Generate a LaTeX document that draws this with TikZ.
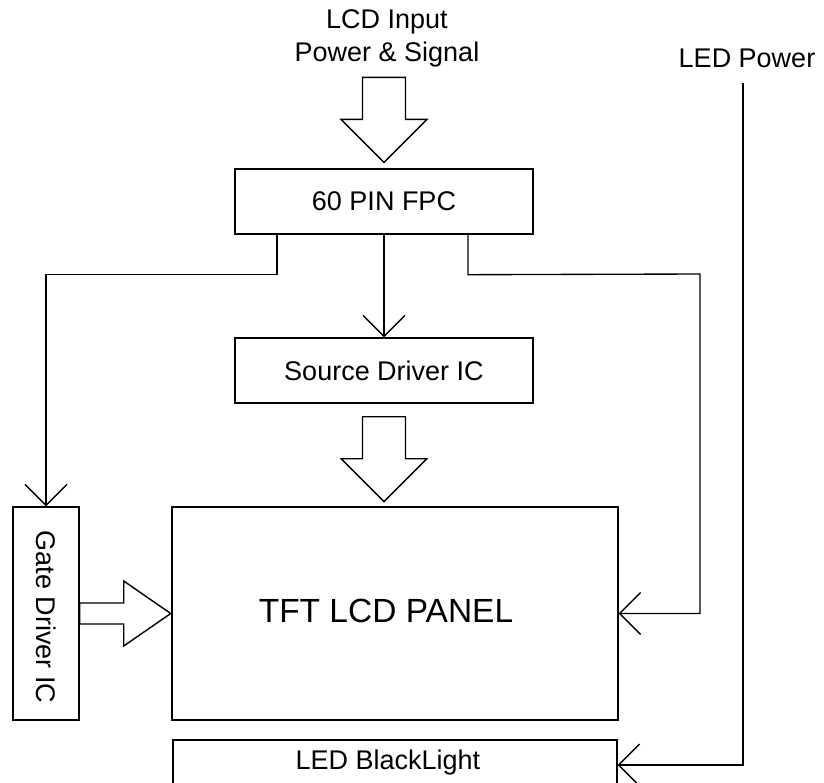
\documentclass[tikz,border=0pt]{standalone}
\usepackage{fontspec}
\setmainfont{Liberation Sans}
\usepackage{tikz}
\usetikzlibrary{arrows.meta,positioning}
\newcommand{\bigfont}{\fontsize{27}{33}\selectfont}
\newcommand{\panelfont}{\fontsize{33.5}{40}\selectfont}
\tikzstyle{block} = [rectangle, draw, line width=1.4pt, inner sep=0pt, text centered, font=\bigfont]
\tikzstyle{wire} = [line width=1.35pt, -{Straight Barb[length=21pt,width=42pt]}]
\tikzstyle{fat} = [line width=1.4pt, fill=white, line join=miter]

\begin{document}
\begin{tikzpicture}[x=1pt,y=-1pt]
\useasboundingbox (0,0) rectangle (824,782);

% Boxes
\node[block, minimum width=298pt, minimum height=65pt] (fpc) at (384,201.5) {60 PIN FPC};
\node[block, minimum width=298pt, minimum height=65pt] (src) at (384,370.5) {Source Driver IC};
\node[block, minimum width=446pt, minimum height=213pt] (tft) at (395,613.5) {};
\node[font=\panelfont] (tfttxt) at (386,611) {TFT LCD PANEL};
\node[block, minimum width=66pt, minimum height=213pt] (gate) at (46,613.5) {};
\node[rotate=-90, font=\bigfont] (gatetxt) at (46,617) {Gate Driver IC};
\node[block, minimum width=444pt, minimum height=50pt] (led) at (395,765) {};
\node[font=\bigfont] (ledtxt) at (388,763) {LED BlackLight};

% Labels
\node[font=\bigfont, align=center] (lcdin) at (387,38.5) {LCD Input\\Power \& Signal};
\node[font=\bigfont] (ledpwr) at (747,58) {LED Power};
\coordinate (ledtop) at (743,83);

% Block arrows
\draw[fat] (fpc.north) ++(-21.5,-91) -- ++(43,0) -- ++(0,42) -- ++(21.5,0) -- ++(-43,43) -- ++(-43,-43) -- ++(21.5,0) -- cycle;
\draw[fat] (src.south) ++(-21.5,13) -- ++(43,0) -- ++(0,42) -- ++(21.5,0) -- ++(-43,43) -- ++(-43,-43) -- ++(21.5,0) -- cycle;
\draw[fat] (gate.east) ++(0,-10.5) -- ++(44,0) -- ++(0,-22) -- ++(47,32.5) -- ++(-47,32.5) -- ++(0,-22) -- ++(-44,0) -- cycle;

% Wires
\draw[wire] ([xshift=-107pt]fpc.south) -- ++(0,40) -| (gate.north);
\draw[wire] (fpc.south) -- (src.north);
\draw[wire] ([xshift=84pt]fpc.south) -- ++(0,40) -- (700,274) |- (tft.east);
\draw[wire] (ledtop) |- (led.east);
\end{tikzpicture}
\end{document}
